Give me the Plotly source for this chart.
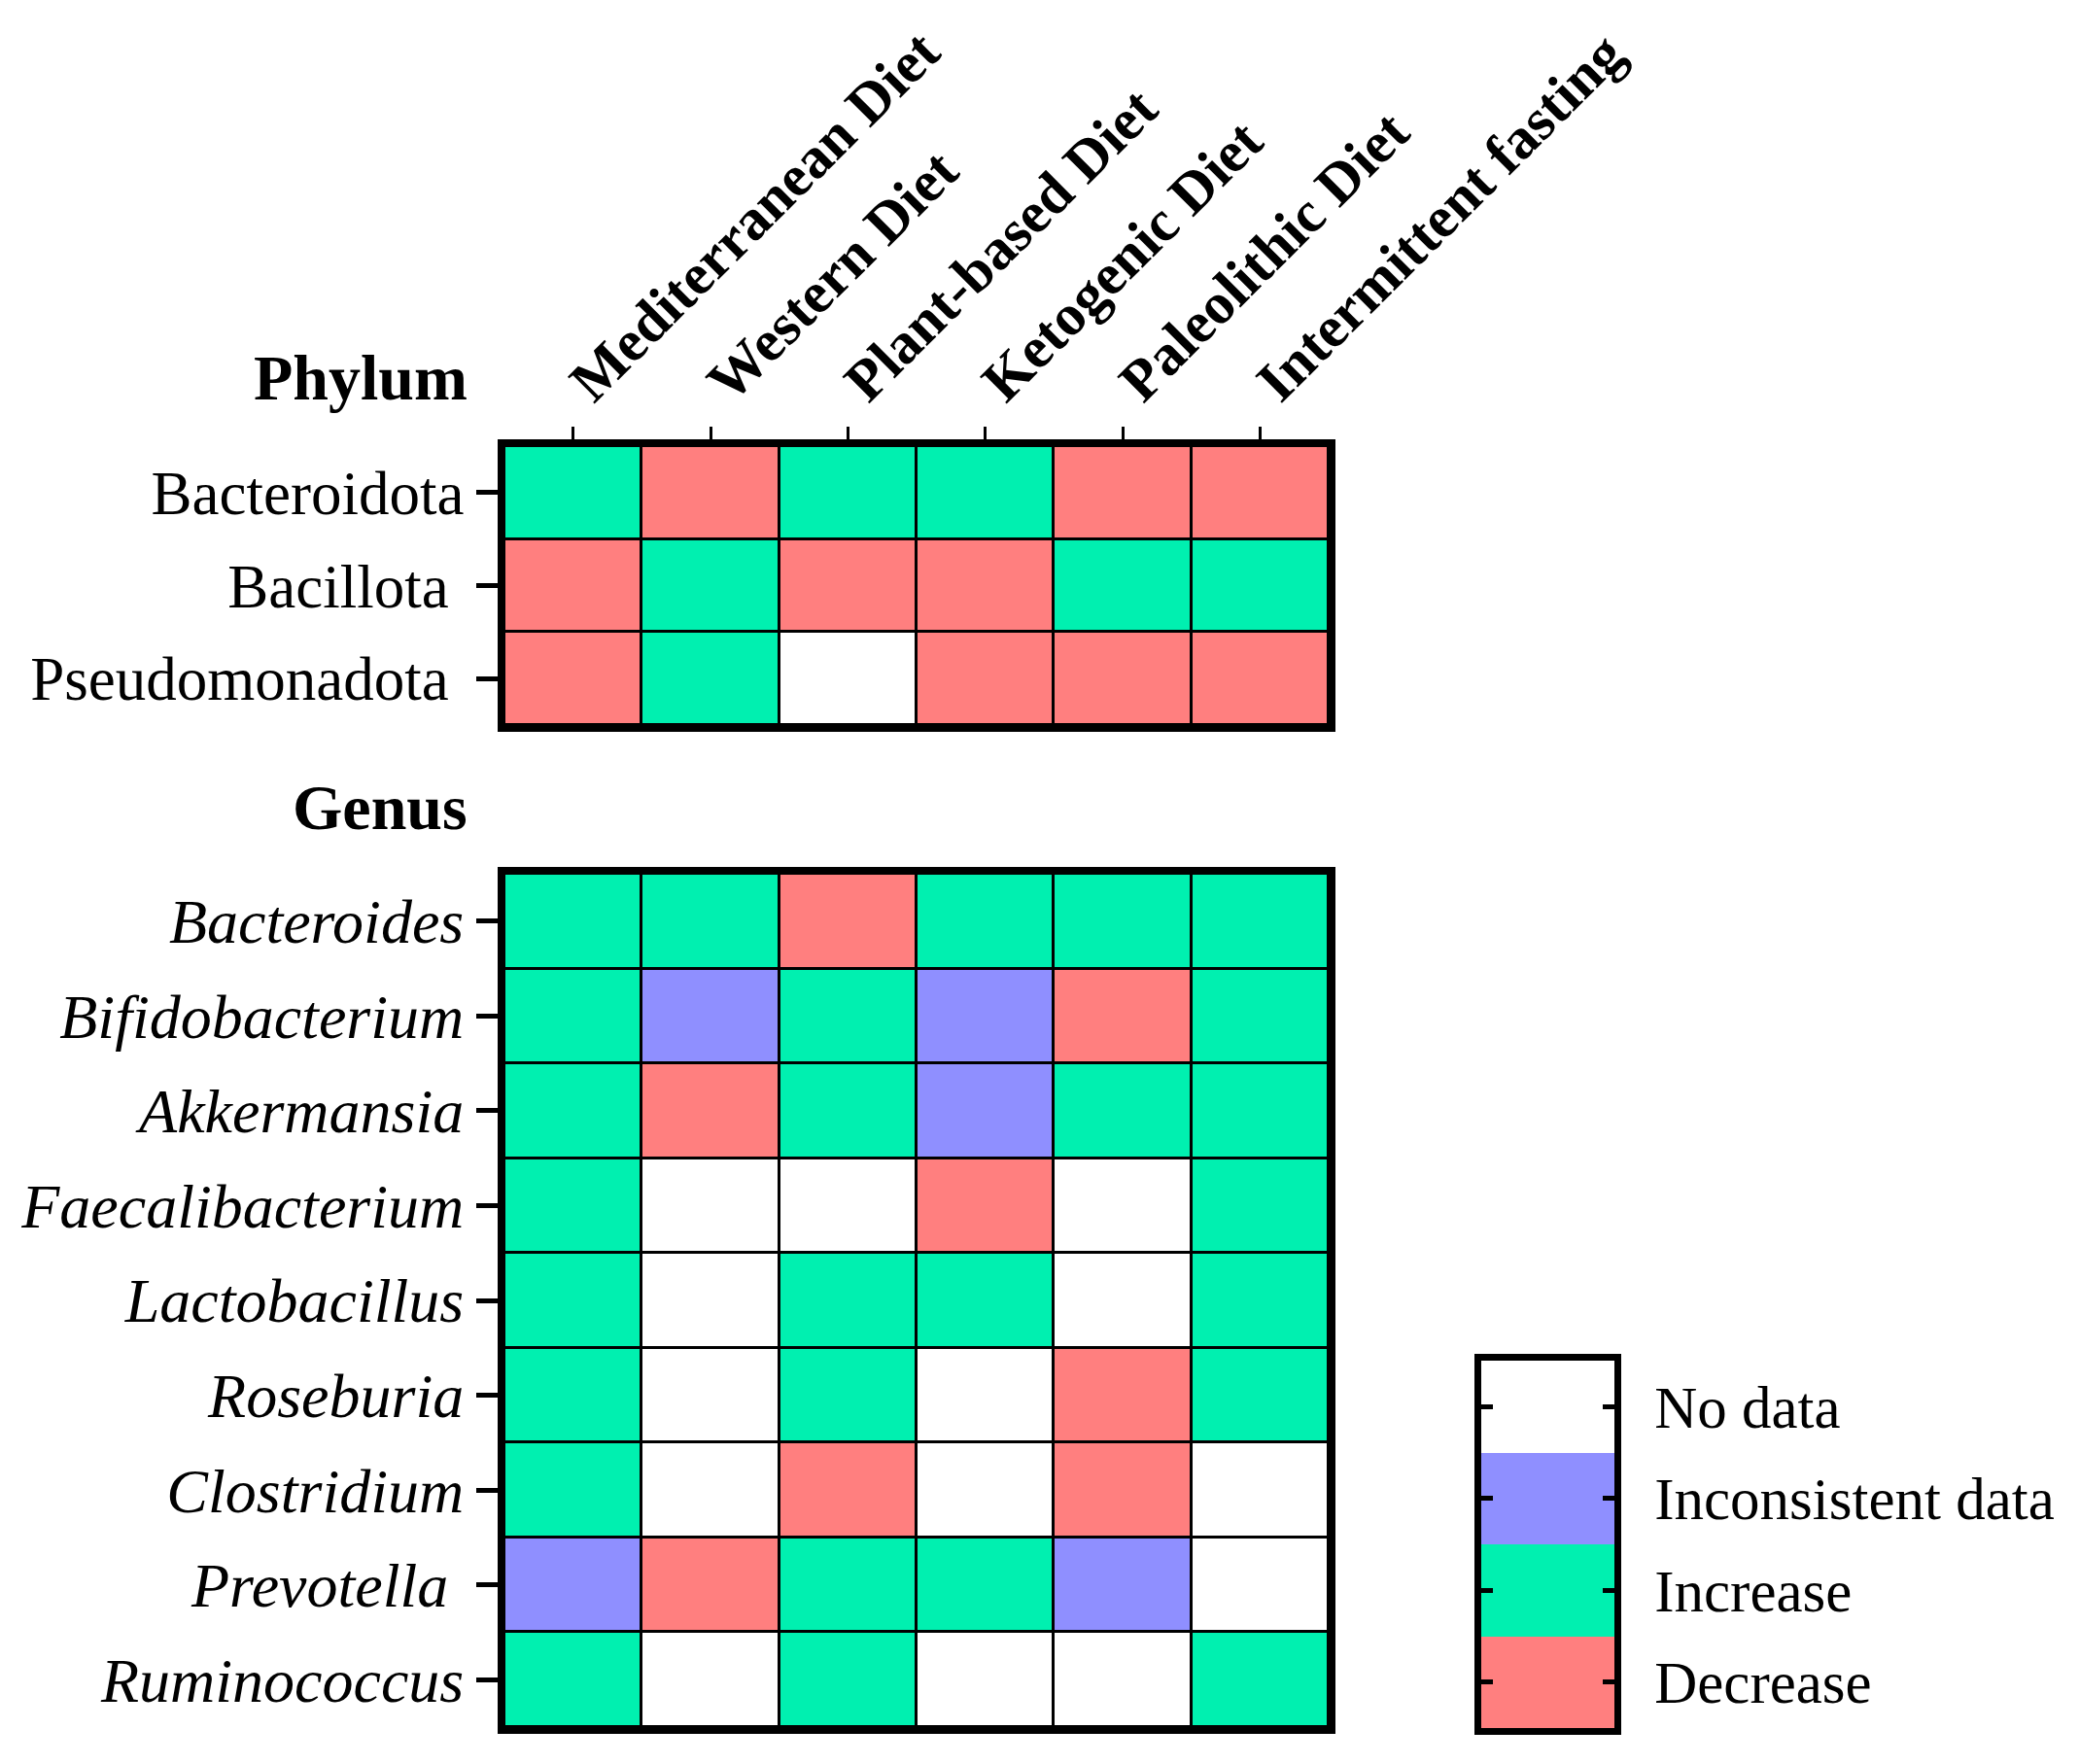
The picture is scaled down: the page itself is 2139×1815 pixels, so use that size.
import plotly.graph_objects as go

# ---- data ----
diets = ["Mediterranean Diet", "Western Diet", "Plant-based Diet",
         "Ketogenic Diet", "Paleolithic Diet", "Intermittent fasting"]

phyla = ["Bacteroidota", "Bacillota", "Pseudomonadota"]
phyla_ticktext = ["Bacteroidota", "Bacillota\u00a0", "Pseudomonadota\u00a0"]

genera = ["Bacteroides", "Bifidobacterium", "Akkermansia", "Faecalibacterium",
          "Lactobacillus", "Roseburia", "Clostridium", "Prevotella", "Ruminococcus"]
genera_ticktext = ["Bacteroides", "Bifidobacterium", "Akkermansia", "Faecalibacterium",
                   "Lactobacillus", "Roseburia", "Clostridium", "Prevotella\u00a0", "Ruminococcus"]

# codes: 0 = No data, 1 = Inconsistent data, 2 = Increase, 3 = Decrease
legend_labels = ["No data", "Inconsistent data", "Increase", "Decrease"]
legend_codes = [0, 1, 2, 3]

phylum_z = [
    [2, 3, 2, 2, 3, 3],
    [3, 2, 3, 3, 2, 2],
    [3, 2, 0, 3, 3, 3],
]

genus_z = [
    [2, 2, 3, 2, 2, 2],
    [2, 1, 2, 1, 3, 2],
    [2, 3, 2, 1, 2, 2],
    [2, 0, 0, 3, 0, 2],
    [2, 0, 2, 2, 0, 2],
    [2, 0, 2, 0, 3, 2],
    [2, 0, 3, 0, 3, 0],
    [1, 3, 2, 2, 1, 0],
    [2, 0, 2, 0, 0, 2],
]

colors = ["#FFFFFF", "#8F8FFF", "#00F0B0", "#FF7F7F"]

# ---- figure ----
W, H = 2139, 1815
n = len(colors)
cscale = []
for i, c in enumerate(colors):
    cscale.append([i / n, c])
    cscale.append([(i + 1) / n, c])

FONT = "Liberation Serif, Times New Roman, serif"

def hm(z, x, y, xa, ya, gap):
    return go.Heatmap(z=z, x=x, y=y, xaxis=xa, yaxis=ya, colorscale=cscale,
                      zmin=-0.5, zmax=n - 0.5, showscale=False, xgap=gap, ygap=gap,
                      hoverinfo="skip")

fig = go.Figure()
fig.add_trace(hm(phylum_z, diets, phyla, "x", "y", 3))
fig.add_trace(hm(genus_z, diets, genera, "x2", "y2", 3))
fig.add_trace(hm([[c] for c in legend_codes], ["key"], legend_labels, "x3", "y3", 0))

def px_x(p):
    return p / W

def px_y(p):
    return 1 - p / H

LW = 7
xdom = [px_x(511), px_x(1359)]
line = dict(showline=True, linecolor="black", linewidth=LW, mirror=True,
            showgrid=False, zeroline=False, automargin=False)

fig.update_layout(
    width=W, height=H,
    margin=dict(l=0, r=0, t=0, b=0, autoexpand=False),
    paper_bgcolor="white", plot_bgcolor="black",
    font=dict(family=FONT, color="black"),
    xaxis=dict(domain=xdom, anchor="y", side="top", tickangle=-45,
               ticks="outside", ticklen=13, tickwidth=3, tickcolor="black",
               ticklabelstandoff=-10,
               tickfont=dict(family=FONT, size=60, weight="bold"), **line),
    yaxis=dict(domain=[px_y(738), px_y(451)], anchor="x", autorange="reversed",
               tickvals=phyla, ticktext=phyla_ticktext,
               ticks="outside", ticklen=22, tickwidth=5, tickcolor="black",
               tickfont=dict(family=FONT, size=63), **line),
    xaxis2=dict(domain=xdom, anchor="y2", showticklabels=False, ticks="", **line),
    yaxis2=dict(domain=[px_y(1769), px_y(891)], anchor="x2", autorange="reversed",
                tickvals=genera, ticktext=genera_ticktext,
                ticks="outside", ticklen=22, tickwidth=5, tickcolor="black",
                tickfont=dict(family=FONT, size=64, style="italic"), **line),
    xaxis3=dict(domain=[px_x(1516), px_x(1653)], anchor="y3",
                showticklabels=False, ticks="", **line),
    yaxis3=dict(domain=[px_y(1770), px_y(1392)], anchor="x3", autorange="reversed",
                side="right", showline=True, linecolor="black", linewidth=LW,
                mirror="ticks", showgrid=False, zeroline=False, automargin=False,
                ticks="inside", ticklen=12, tickwidth=5, tickcolor="black",
                ticklabelstandoff=22,
                tickfont=dict(family=FONT, size=61)),
)

fig.add_annotation(text="<b>Phylum</b>", xref="paper", yref="paper",
                   x=px_x(475), y=px_y(380), xanchor="right", yanchor="middle",
                   showarrow=False, font=dict(family=FONT, size=66))
fig.add_annotation(text="<b>Genus</b>", xref="paper", yref="paper",
                   x=px_x(475), y=px_y(822), xanchor="right", yanchor="middle",
                   showarrow=False, font=dict(family=FONT, size=66))

fig.write_html("out.html", config={"displayModeBar": False})
